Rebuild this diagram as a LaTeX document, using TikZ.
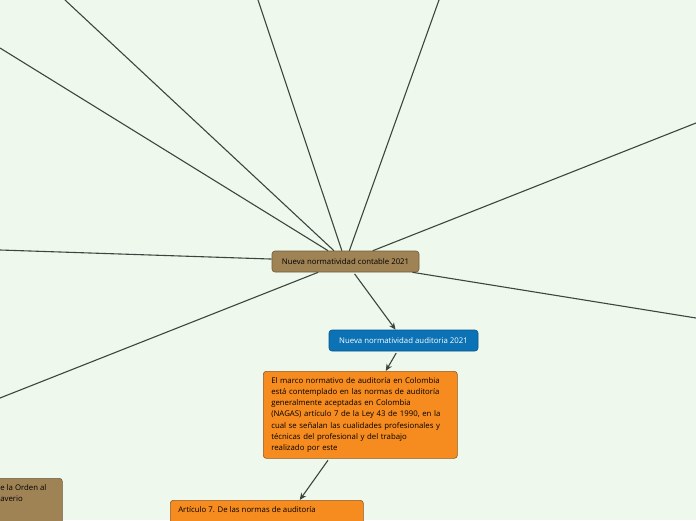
\documentclass[tikz,border=0pt]{standalone}
\usepackage{fontspec}
\setmainfont{Open Sans}
\usetikzlibrary{arrows.meta,positioning}
\definecolor{mapBack}{RGB}{239,248,237}
\definecolor{mapLine}{RGB}{59,70,63}
\definecolor{mainBrown}{RGB}{160,131,85}
\definecolor{mainBrownEdge}{RGB}{110,92,62}
\definecolor{audBlue}{RGB}{11,114,181}
\definecolor{audBlueEdge}{RGB}{8,86,140}
\definecolor{noteOrange}{RGB}{246,139,31}
\definecolor{noteOrangeEdge}{RGB}{140,90,35}
\tikzset{
  topicbox/.style={draw=mainBrownEdge, fill=mainBrown, rounded corners=3pt, line width=0.6pt,
    minimum width=147pt, minimum height=21pt, inner sep=0pt, font=\fontsize{7.8}{10}\selectfont},
  bluebox/.style={draw=audBlueEdge, fill=audBlue, text=white, rounded corners=3pt, line width=0.6pt,
    minimum width=149pt, minimum height=21pt, inner sep=0pt, font=\fontsize{7.8}{10}\selectfont},
  notebox/.style={draw=noteOrangeEdge, fill=noteOrange, rounded corners=3pt, line width=0.6pt,
    inner xsep=8pt, inner ysep=6pt, align=left, font=\fontsize{7.8}{11.2}\selectfont},
  branch/.style={draw=mapLine, line width=1.1pt},
  childlink/.style={draw=mapLine, line width=1.1pt, shorten <=2pt, -{Stealth[length=7pt,width=6pt]}}
}
\begin{document}
\begin{tikzpicture}[x=1pt, y=-1pt]
    \useasboundingbox (0,0) rectangle (696,520);
    \fill[mapBack] (0,0) rectangle (696,520);
    \clip (0,0) rectangle (696,520);
    % ends of the branches that leave the frame
    \coordinate (farA) at (0,48);
    \coordinate (farB) at (65,0);
    \coordinate (farC) at (258,0);
    \coordinate (farD) at (439,0);
    \coordinate (farE) at (696,123);
    \coordinate (farF) at (0,250);
    \coordinate (farG) at (0,398);
    \coordinate (farH) at (696,318);
    % nodes
    \node[topicbox] (contable) at (345.5,261.5) {Nueva normatividad contable 2021};
    \node[bluebox] (auditoria) at (403.5,340.5) {Nueva normatividad auditoria 2021};
    \node[notebox, text width=178pt, anchor=north west] (marco) at (263,371)
      {El marco normativo de auditoría en Colombia\\
       está contemplado en las normas de auditoría\\
       generalmente aceptadas en Colombia\\
       (NAGAS) artículo 7 de la Ley 43 de 1990, en la\\
       cual se señalan las cualidades profesionales y\\
       técnicas del profesional y del trabajo\\
       realizado por este};
    \node[notebox, anchor=north west] (articulo) at (170,500)
      {\parbox[c][80pt][t]{177pt}{Artículo 7. De las normas de auditoría}};
    \node[notebox, draw=mainBrownEdge, fill=mainBrown, anchor=north west] (orden) at (-8,478)
      {\parbox[c][50pt][t]{54pt}{e la Orden al\\averio}};
    % branches
    \foreach \far in {farA,farB,farC,farD,farE,farF,farG,farH}
      \draw[branch] (\far) -- (contable);
    \draw[childlink] (contable) -- (auditoria);
    \draw[childlink] (auditoria) -- (marco);
    \draw[childlink] (marco) -- (articulo);
\end{tikzpicture}
\end{document}
